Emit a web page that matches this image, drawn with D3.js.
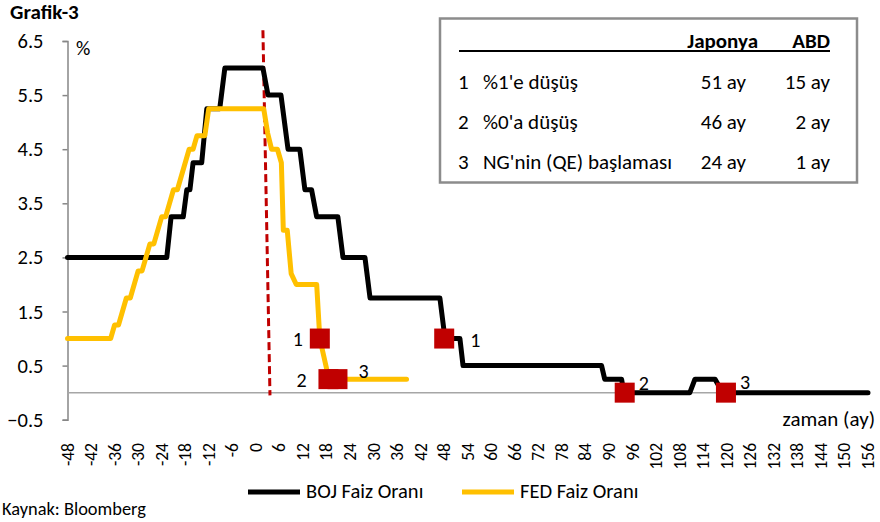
<!DOCTYPE html>
<html>
<head>
<meta charset="utf-8">
<script src="https://cdn.jsdelivr.net/npm/d3@7"></script>
<style>
  body { margin: 0; background: #fff; }
  svg text { font-family: Carlito, Calibri, Lato, sans-serif; fill: #000; }
</style>
</head>
<body>
<div id="chart"></div>
<script>
// BOJ policy rate, breakpoints (month, %)
const bojMonths = [-48, -22.7, -21.6, -18.5, -17.6, -16.8, -16, -13.8, -12.5, -9.2, -7.9, 1.8, 3.1, 6.4, 8.2, 11.2, 12.5, 14.2, 15.5, 20.9, 22.2, 27.8, 29.1, 46.9, 48.2, 52, 52.8, 88.1, 88.9, 93.2, 93.8, 110.6, 111.9, 117, 119, 156];
const bojRates  = [2.5, 2.5, 3.25, 3.25, 3.75, 3.75, 4.25, 4.25, 5.25, 5.25, 6, 6, 5.5, 5.5, 4.5, 4.5, 3.75, 3.75, 3.25, 3.25, 2.5, 2.5, 1.75, 1.75, 1, 1, 0.5, 0.5, 0.25, 0.25, 0, 0, 0.25, 0.25, 0, 0];

// FED funds rate
const fedMonths = [-48, -37, -36, -35, -33, -32, -30, -29, -27, -26, -24, -23, -21, -20, -17, -16, -15, -13, -12, 2, 3, 4, 5.5, 6.5, 7, 8, 9, 10.3, 15.5, 16.3, 18, 18.5, 38.4];
const fedRates  = [1, 1, 1.25, 1.25, 1.75, 1.75, 2.25, 2.25, 2.75, 2.75, 3.25, 3.25, 3.75, 3.75, 4.5, 4.5, 4.75, 4.75, 5.25, 5.25, 4.8, 4.5, 4.5, 4.25, 3, 3, 2.2, 2, 2, 1, 0.45, 0.25, 0.25];

// event markers (1: %1, 2: %0, 3: QE)
const fedMarkMonths = [16.3, 18.5, 20.8];
const fedMarkRates  = [1, 0.25, 0.25];
const bojMarkMonths = [48, 94, 119.8];
const bojMarkRates  = [1, 0, 0];
const markLabels = ["1", "2", "3"];

const yTicks = [-0.5, 0.5, 1.5, 2.5, 3.5, 4.5, 5.5, 6.5];
const xTicks = d3.range(-48, 157, 6);

// crisis line (dashed), top/bottom month and rate
const crisisMonths = [1.8, 3.6];
const crisisRates = [6.7, -0.05];

// summary table
const tableHead = ["Japonya", "ABD"];
const tableRows = [
    ["1", "%1'e düşüş", "51 ay", "15 ay"],
    ["2", "%0'a düşüş", "46 ay", "2 ay"],
    ["3", "NG'nin (QE) başlaması", "24 ay", "1 ay"]
];

const seriesNames = ["BOJ Faiz Oranı", "FED Faiz Oranı"];
const seriesColors = ["#000000", "#FFC000"];

const width = 880, height = 522;
const svg = d3.select("#chart").append("svg")
    .attr("width", width)
    .attr("height", height);

const x = d3.scaleLinear().domain([-48, 156]).range([67.5, 868]);
const y = d3.scaleLinear().domain([-0.5, 6.5]).range([419.7, 41]);

// title
svg.append("text").attr("x", 10).attr("y", 19)
    .attr("font-size", "21px").attr("font-weight", "bold").text("Grafik-3");

// y axis
const yAxis = svg.append("g")
    .attr("transform", `translate(${x(-48)},0)`)
    .call(d3.axisLeft(y).tickValues(yTicks).tickFormat(d3.format(".1f")).tickSize(5).tickSizeOuter(5).tickPadding(19));
yAxis.selectAll("path, line").attr("stroke", "#868686").attr("stroke-width", 1.5);
yAxis.selectAll("text").attr("font-size", "20.5px").attr("font-family", null);

svg.append("text").attr("x", 76).attr("y", 55).attr("font-size", "20px").text("%");

// x axis line at zero
svg.append("line")
    .attr("x1", x(-48)).attr("x2", x(156))
    .attr("y1", y(0)).attr("y2", y(0))
    .attr("stroke", "#a6a6a6").attr("stroke-width", 1.5);

// x tick labels, rotated
svg.append("g").selectAll("text")
    .data(xTicks)
    .join("text")
    .attr("transform", (d) => `translate(${x(d) + 6},443) rotate(-90)`)
    .attr("text-anchor", "end")
    .attr("font-size", "17.5px")
    .text((d) => d);

svg.append("text").attr("x", 875).attr("y", 426)
    .attr("text-anchor", "end").attr("font-size", "21px").text("zaman (ay)");

// crisis line
svg.append("line")
    .attr("x1", x(crisisMonths[0])).attr("y1", y(crisisRates[0]))
    .attr("x2", x(crisisMonths[1])).attr("y2", y(crisisRates[1]))
    .attr("stroke", "#C00000").attr("stroke-width", 3)
    .attr("stroke-dasharray", "8,4");

// lines
const line = d3.line().x((d) => x(d[0])).y((d) => y(d[1]));
const bojData = d3.zip(bojMonths, bojRates);
const fedData = d3.zip(fedMonths, fedRates);

svg.append("path").datum(bojData)
    .attr("d", line).attr("fill", "none")
    .attr("stroke", seriesColors[0]).attr("stroke-width", 5)
    .attr("stroke-linejoin", "round").attr("stroke-linecap", "round");

svg.append("path").datum(fedData)
    .attr("d", line).attr("fill", "none")
    .attr("stroke", seriesColors[1]).attr("stroke-width", 5)
    .attr("stroke-linejoin", "round").attr("stroke-linecap", "round");

// markers
const markSize = 20;
function drawMarks(months, rates, labelDx, labelDy) {
    const pts = d3.zip(months, rates);
    svg.append("g").selectAll("rect")
        .data(pts)
        .join("rect")
        .attr("x", (d) => x(d[0]) - markSize / 2)
        .attr("y", (d) => y(d[1]) - markSize / 2)
        .attr("width", markSize).attr("height", markSize)
        .attr("fill", "#C00000");
    svg.append("g").selectAll("text")
        .data(pts)
        .join("text")
        .attr("x", (d, i) => x(d[0]) + labelDx[i])
        .attr("y", (d, i) => y(d[1]) + labelDy[i])
        .attr("text-anchor", "middle")
        .attr("font-size", "20px")
        .text((d, i) => markLabels[i]);
}
drawMarks(fedMarkMonths, fedMarkRates, [-22, -27, 26], [7, 8, -1]);
drawMarks(bojMarkMonths, bojMarkRates, [31, 19, 19], [8, -3, -4]);

// table
const tbl = svg.append("g");
tbl.append("rect").attr("x", 440).attr("y", 18.5).attr("width", 417).attr("height", 164)
    .attr("fill", "#fff").attr("stroke", "#8c8c8c").attr("stroke-width", 2.5);
tbl.append("line").attr("x1", 459).attr("x2", 830).attr("y1", 51).attr("y2", 51)
    .attr("stroke", "#000").attr("stroke-width", 2);
const colRight = [758, 830];
const fs = "21px";
tableHead.forEach((h, i) => {
    tbl.append("text").attr("x", colRight[i]).attr("y", 48)
        .attr("text-anchor", "end").attr("font-size", fs).attr("font-weight", "bold").text(h);
});
tableRows.forEach((r, i) => {
    const by = 89 + i * 40;
    tbl.append("text").attr("x", 458).attr("y", by).attr("font-size", fs).text(r[0]);
    tbl.append("text").attr("x", 483).attr("y", by).attr("font-size", fs).text(r[1]);
    tbl.append("text").attr("x", colRight[0] - 12).attr("y", by).attr("text-anchor", "end").attr("font-size", fs).text(r[2]);
    tbl.append("text").attr("x", colRight[1]).attr("y", by).attr("text-anchor", "end").attr("font-size", fs).text(r[3]);
});

// legend
const legend = svg.append("g");
const legendX = [248, 462];
seriesNames.forEach((name, i) => {
    legend.append("line").attr("x1", legendX[i]).attr("x2", legendX[i] + 52)
        .attr("y1", 492).attr("y2", 492)
        .attr("stroke", seriesColors[i]).attr("stroke-width", 5);
    legend.append("text").attr("x", legendX[i] + 58).attr("y", 498)
        .attr("font-size", "20.5px").text(name);
});

svg.append("text").attr("x", 2).attr("y", 515).attr("font-size", "18.4px").text("Kaynak: Bloomberg");
</script>
</body>
</html>
